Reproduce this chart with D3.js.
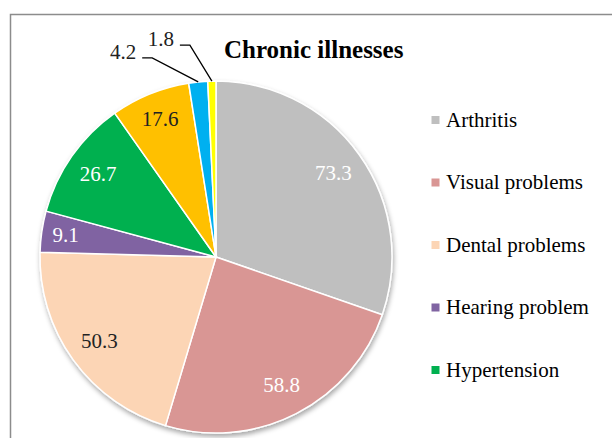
<!DOCTYPE html>
<html>
<head>
<meta charset="utf-8">
<script src="https://cdn.jsdelivr.net/npm/d3@7"></script>
<style>
  body { margin: 0; background: #fff; }
  svg { display: block; }
</style>
</head>
<body>
<svg id="chart" width="612" height="438"></svg>
<script>
// values, clockwise from 12 o'clock
var categories = ["Arthritis", "Visual problems", "Dental problems", "Hearing problem", "Hypertension", "", "", ""];
var values = [73.3, 58.8, 50.3, 9.1, 26.7, 17.6, 4.2, 1.8];
var colors = ["#bfbfbf", "#d99694", "#fcd5b5", "#8064a2", "#00b050", "#ffc000", "#00b0f0", "#ffff00"];
var labelColors = ["#fff", "#fff", "#222", "#fff", "#fff", "#222", "#222", "#222"];
var legendShown = 5;

var svg = d3.select("#chart");
var font = "Liberation Serif, Times New Roman, serif";

// chart frame (right/bottom edges fall outside the window)
svg.append("path")
    .attr("d", "M10.5,438 V14.5 H612")
    .attr("fill", "none")
    .attr("stroke", "#8c8c8c")
    .attr("stroke-width", 1.5);

var defs = svg.append("defs");
var filter = defs.append("filter").attr("id", "shadow")
    .attr("x", "-20%").attr("y", "-20%").attr("width", "140%").attr("height", "140%");
filter.append("feDropShadow")
    .attr("dx", 1).attr("dy", 3).attr("stdDeviation", 2.5)
    .attr("flood-color", "#000").attr("flood-opacity", 0.35);

var cx = 216, cy = 257, radius = 176;

var pie = d3.pie().sort(null).value(function(d) { return d; });
var arcs = pie(values);
var arc = d3.arc().innerRadius(0).outerRadius(radius);

var g = svg.append("g").attr("transform", "translate(" + cx + "," + cy + ")");

g.append("g").attr("filter", "url(#shadow)")
  .selectAll("path")
  .data(arcs)
  .enter()
  .append("path")
    .attr("d", arc)
    .attr("fill", function(d, i) { return colors[i]; })
    .attr("stroke", "#fff")
    .attr("stroke-width", 1.5)
    .attr("stroke-linejoin", "round");

// inside labels
g.selectAll(".lbl")
  .data(arcs.filter(function(d) { return d.value >= 8; }))
  .enter()
  .append("text")
    .attr("class", "lbl")
    .attr("transform", function(d) {
        var r = d.value < 10 ? 152 : (d.value < 20 ? 149 : 144);
        var c = d3.arc().innerRadius(r).outerRadius(r).centroid(d);
        return "translate(" + c[0] + "," + c[1] + ")";
    })
    .attr("dy", "0.33em")
    .attr("text-anchor", "middle")
    .attr("font-family", font)
    .attr("font-size", 21)
    .attr("fill", function(d) { return labelColors[d.index]; })
    .text(function(d) { return d.value; });

// outside labels with leader lines
var outside = arcs.filter(function(d) { return d.value < 8; });
var elbowOffsets = [[-46, -24], [-22, -36]];
outside.forEach(function(d, k) {
    var a = (d.startAngle + d.endAngle) / 2;
    var ex = Math.sin(a) * radius, ey = -Math.cos(a) * radius;
    var bx = ex + elbowOffsets[k][0], by = ey + elbowOffsets[k][1];
    g.append("path")
        .attr("d", "M" + ex + "," + ey + "L" + bx + "," + by + "H" + (bx - 10))
        .attr("fill", "none")
        .attr("stroke", "#000")
        .attr("stroke-width", 1.3);
    g.append("text")
        .attr("x", bx - 16)
        .attr("y", by + 1)
        .attr("text-anchor", "end")
        .attr("font-family", font)
        .attr("font-size", 21)
        .attr("fill", "#222")
        .text(d.value);
});

// title
svg.append("text")
    .attr("x", 224)
    .attr("y", 58)
    .attr("font-family", font)
    .attr("font-size", 25)
    .attr("font-weight", "bold")
    .attr("fill", "#000")
    .text("Chronic illnesses");

// legend
var legend = svg.append("g").attr("transform", "translate(431.5,0)");
var rows = legend.selectAll("g")
  .data(categories.slice(0, legendShown))
  .enter()
  .append("g")
    .attr("transform", function(d, i) { return "translate(0," + (120 + i * 62.5) + ")"; });

rows.append("rect")
    .attr("x", 0).attr("y", -4)
    .attr("width", 8).attr("height", 8)
    .attr("fill", function(d, i) { return colors[i]; });

rows.append("text")
    .attr("x", 14.5)
    .attr("dy", "0.33em")
    .attr("font-family", font)
    .attr("font-size", 21)
    .attr("fill", "#000")
    .text(function(d) { return d; });
</script>
</body>
</html>
